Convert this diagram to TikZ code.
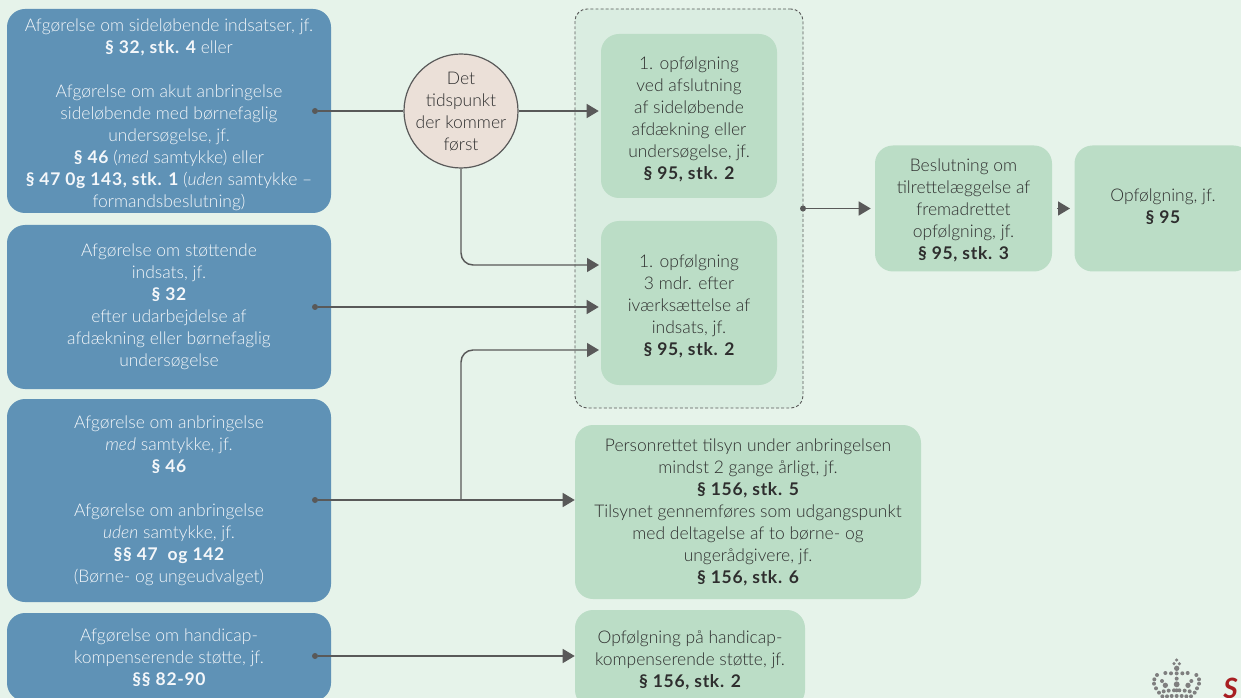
\documentclass[tikz,border=0pt]{standalone}
\usepackage{fontspec}
\setmainfont{Lato Light}[ItalicFont={Lato Light Italic},BoldFont={Lato Bold},BoldItalicFont={Lato Bold Italic}]
\newfontface\bfx[LetterSpace=4]{Lato Bold}
\usetikzlibrary{arrows.meta,calc}
\definecolor{bgc}{HTML}{E6F3EA}
\definecolor{bluec}{HTML}{5F92B6}
\definecolor{greenc}{HTML}{BBDDC6}
\definecolor{groupc}{HTML}{DAEDE1}
\definecolor{circc}{HTML}{EBE0D8}
\definecolor{linec}{HTML}{595959}
\definecolor{textd}{HTML}{2E2E2E}
\definecolor{textw}{HTML}{F4F7FA}
\definecolor{redc}{HTML}{A81E22}
\definecolor{crownc}{HTML}{7F7F7F}
\newcommand{\bb}[1]{{\bfx #1}}
% lines of a box, moved down by #1 px without moving the box
\newcommand{\tx}[2]{\raisebox{-#1\dimexpr0.75pt\relax}[\height][\depth]{\begin{tabular}{@{}c@{}}#2\end{tabular}}}
\tikzset{
  x=0.75pt,y=-0.75pt,
  basebox/.style={rectangle,rounded corners=13.5pt,inner sep=0pt,
    font=\fontsize{13.1pt}{16.5pt}\selectfont},
  bluebox/.style={basebox,fill=bluec,text=textw,minimum width=243pt},
  greenbox/.style={basebox,fill=greenc,text=textd},
  conn/.style={draw=linec,line width=1.1pt,-{Triangle[length=9pt,width=10.5pt]},shorten >=1.5pt},
  plainline/.style={draw=linec,line width=1.1pt},
  dotc/.style={circle,fill=linec,inner sep=0pt,minimum size=4.5pt},
  crowndot/.style={fill=crownc},
}
\begin{document}
\begin{tikzpicture}
\useasboundingbox (0,0) rectangle (1241,698);
\fill[bgc] (0,0) rectangle (1241,698);
\clip (0,0) rectangle (1241,698);

% group
\node[rectangle,rounded corners=9pt,draw=linec,dash pattern=on 2.2pt off 1.6pt,line width=0.7pt,fill=groupc,minimum width=171pt,minimum height=299.25pt,inner sep=0pt] (grp) at (689,208.5) {};

% left boxes
\node[bluebox,minimum height=153pt] (b1) at (169,111) {\tx{4}{Afgørelse om sideløbende indsatser, jf.\\\bb{§ 32, stk. 4} eller\\[16.5pt]Afgørelse om akut anbringelse\\sideløbende med børnefaglig\\undersøgelse, jf.\\\bb{§ 46} (\textit{med} samtykke) eller\\\bb{§ 47 0g 143, stk. 1} (\textit{uden} samtykke –\\formandsbeslutning)}};
\node[bluebox,minimum height=123pt] (b2) at (169,307) {\tx{0}{Afgørelse om støttende\\indsats, jf.\\\bb{§ 32}\\efter udarbejdelse af\\afdækning eller børnefaglig\\undersøgelse}};
\node[bluebox,minimum height=152.25pt] (b3) at (169,500.5) {\tx{1}{Afgørelse om anbringelse\\\textit{med} samtykke, jf.\\\bb{§ 46}\\[16.5pt]Afgørelse om anbringelse\\\textit{uden} samtykke, jf.\\\bb{§§ 47\ \ og 142}\\(Børne- og ungeudvalget)}};
\node[bluebox,minimum height=66pt] (b4) at (169,657) {\tx{2}{Afgørelse om handicap-\\kompenserende støtte, jf.\\\bb{§§ 82-90}}};

% circle
\node[circle,draw=linec,line width=0.9pt,fill=circc,text=textd,minimum size=85.5pt,inner sep=0pt,font=\fontsize{13.1pt}{16.5pt}\selectfont] (circ) at (461,111) {\makebox[0pt]{\smash{\tx{6}{Det\\tidspunkt\\der kommer\\først}}}};

% green boxes
\node[greenbox,minimum width=132pt,minimum height=123pt] (g1) at (689,116) {\tx{4}{1. opfølgning\\ved afslutning\\af sideløbende\\afdækning eller\\undersøgelse, jf.\\\bb{§ 95, stk. 2}}};
\node[greenbox,minimum width=132pt,minimum height=123pt] (g2) at (689,303) {\tx{4}{1. opfølgning\\3 mdr. efter\\iværksættelse af\\indsats, jf.\\\bb{§ 95, stk. 2}}};
\node[greenbox,minimum width=132.75pt,minimum height=94.5pt] (g3) at (963.5,208.5) {\tx{3}{Beslutning om\\tilrettelæggelse af\\fremadrettet\\opfølgning, jf.\\\bb{§ 95, stk. 3}}};
\node[greenbox,minimum width=132.75pt,minimum height=94.5pt] (g4) at (1163,208.5) {\tx{0}{Opfølgning, jf.\\\bb{§ 95}}};
\node[greenbox,minimum width=259.5pt,minimum height=130.5pt] (g5) at (748,512) {\tx{1}{Personrettet tilsyn under anbringelsen\\mindst 2 gange årligt, jf.\\\bb{§ 156, stk. 5}\\Tilsynet gennemføres som udgangspunkt\\med deltagelse af to børne- og\\ungerådgivere, jf.\\\bb{§ 156, stk. 6}}};
\node[greenbox,minimum width=172.5pt,minimum height=73.5pt] (g6) at (690,659) {\tx{2}{Opfølgning på handicap-\\kompenserende støtte, jf.\\\bb{§ 156, stk. 2}}};

% ports
\node[dotc] (d1) at (315,111) {};
\node[dotc] (d2) at (315,307) {};
\node[dotc] (d3) at (315,500) {};
\node[dotc] (d4) at (315,656) {};
\node[dotc] (d5) at (803,208.5) {};
\coordinate (j3) at (461,500);
\coordinate (in1) at (601,265);
\coordinate (in3) at (601,350);
\coordinate (a3) at (1057,208.5);
\coordinate (a4) at (1070,208.5);

% connectors
\draw[plainline] (d1) -- (circ.west);
\draw[conn] (circ.east) -- (g1.west |- circ.east);
\draw[conn,rounded corners=9pt] (circ.south) |- (in1);
\draw[conn] (d2) -- (d2 -| g2.west);
\draw[conn,rounded corners=9pt] (j3) |- (in3);
\draw[conn,shorten >=0pt] (d3) -- (d3 -| g5.west);
\draw[conn,shorten >=0pt] (d4) -- (d4 -| g6.west);
\draw[conn,shorten >=3pt] (d5) -- (d5 -| g3.west);
\draw[conn,shorten >=0pt] (a3) -- (a4);

% crown
\foreach \X/\Y/\R in {230/120/1.3,222/131/1.3,238/131/1.3,230/145/2,230/160/1.5,
 171/165/1.5,196/159/1.5,213/160/1.5,247/160/1.5,263/159/1.5,289/165/1.5,
 163/178/1.5,297/178/1.5,162/191/1.5,297/191/1.5,168/205/1.5,291/205/1.5,
 177/218/1.5,191/214/1.5,206/212/1.5,222/211/1.5,238/211/1.5,254/212/1.5,269/214/1.5,284/218/1.5,
 230/176/1.5,230/193/2.2,230/211/1.5,186/183/1.5,196/196/2,274/183/1.5,264/196/2,
 187/229/1.5,201/229/1.5,215/228/1.5,230/228/1.5,245/228/1.5,259/229/1.5,273/229/1.5}
  \fill[crowndot] ({1100+\X/3},{620+\Y/3}) circle[radius=\R pt];
\node[text=redc,font=\fontsize{21pt}{21pt}\bfseries\itshape,anchor=base west,inner sep=0pt] (logo) at (1223,698) {S};
\end{tikzpicture}
\end{document}
